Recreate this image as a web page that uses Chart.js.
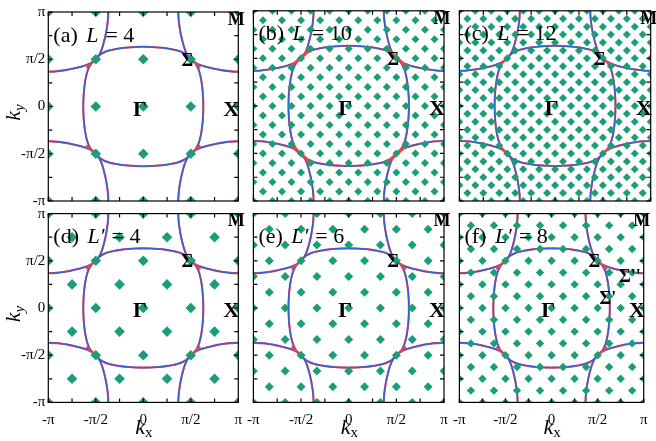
<!DOCTYPE html>
<html>
<head>
<meta charset="utf-8">
<script src="https://cdn.jsdelivr.net/npm/chart.js@4.4.0/dist/chart.umd.min.js"></script>
<style>
  html, body { margin: 0; padding: 0; background: #fff; }
  body { width: 656px; height: 441px; position: relative; overflow: hidden; }
  canvas { position: absolute; left: 0; top: 0; }
</style>
</head>
<body>
<script>
// all momenta in units of pi
const tickValues = [-1, -0.75, -0.5, -0.25, 0, 0.25, 0.5, 0.75, 1];
const tickLabels = { '-1': '-π', '-0.5': '-π/2', '0': '0', '0.5': 'π/2', '1': 'π' };

const panelTags = ['(a)', '(b)', '(c)', '(d)', '(e)', '(f)'];
const clusterNames = ['L', 'L', 'L', 'L′', 'L′', 'L′'];
const clusterSizes = [4, 10, 12, 4, 6, 8];
// k-grid spacing of each cluster, and whether only every other site is used
const gridSteps = [1 / 2, 1 / 10, 1 / 12, 1 / 4, 1 / 6, 1 / 8];
const gridChecker = [false, true, true, true, true, true];

// Fermi surface, one octant each (the rest follows from the square symmetry)
// pocket around Gamma: from the kx axis up to Sigma
const fsGammaKx = [0.632, 0.630, 0.625, 0.616, 0.606, 0.592, 0.574, 0.548, 0.500];
const fsGammaKy = [0.000, 0.080, 0.160, 0.240, 0.300, 0.360, 0.410, 0.455, 0.500];
// pocket around M: from the zone edge kx = pi down to Sigma
const fsMKx = [1.000, 0.920, 0.840, 0.760, 0.700, 0.640, 0.590, 0.545, 0.500];
const fsMKy = [0.368, 0.372, 0.382, 0.396, 0.410, 0.426, 0.443, 0.465, 0.500];
// red pieces at Sigma
const redCuspKx = [0.50, 0.60];
const redCuspKy = [0.50, 0.41];
const redBandKx = [0.41, 0.61];
const redBandKy = [0.59, 0.41];

const quadrants = [[1, 1], [-1, 1], [-1, -1], [1, -1]];

const colLeft = [48.3, 253.4, 459.4];
const colWidth = [190, 190.6, 191.3];
const rowTop = [10.8, 213.6];
const rowHeight = [190.2, 188.8];
const pointSizes = [5.3, 4, 4, 5.3, 4.5, 4.2];

const blue = '#3662d6';
const red = '#e8434c';
const green = '#1b9e77';
const serif = 'Liberation Serif';

function drawRuns(ctx, x, y, runs, align) {
  let total = 0;
  runs.forEach(r => { ctx.font = r.font; total += ctx.measureText(r.text).width + (r.dx || 0); });
  let cx = align === 'center' ? x - total / 2 : x;
  runs.forEach(r => {
    ctx.font = r.font;
    cx += r.dx || 0;
    ctx.fillText(r.text, cx, y + (r.dy || 0));
    cx += ctx.measureText(r.text).width;
  });
}

const decor = {
  id: 'decor',
  afterDatasetsDraw(chart) {
    const { ctx, chartArea: a, scales: { x, y } } = chart;
    ctx.save();
    ctx.strokeStyle = '#000';
    ctx.lineWidth = 1.2;
    ctx.beginPath();
    tickValues.forEach(v => {
      const px = x.getPixelForValue(v), py = y.getPixelForValue(v);
      ctx.moveTo(px, a.bottom); ctx.lineTo(px, a.bottom - 4);
      ctx.moveTo(px, a.top); ctx.lineTo(px, a.top + 4);
      ctx.moveTo(a.left, py); ctx.lineTo(a.left + 4, py);
      ctx.moveTo(a.right, py); ctx.lineTo(a.right - 4, py);
    });
    ctx.stroke();
    ctx.strokeRect(a.left, a.top, a.right - a.left, a.bottom - a.top);
    ctx.restore();
  },
  afterDraw(chart, args, opts) {
    const { ctx, chartArea: a, scales: { x, y } } = chart;
    ctx.save();
    ctx.fillStyle = '#000';
    ctx.textBaseline = 'alphabetic';
    const big = 'bold 22px ' + serif, mid = 'bold 18px ' + serif;
    drawRuns(ctx, a.left + 5, a.top + 29.5, [
      { text: opts.tag + ' ', font: '22px ' + serif },
      { text: opts.name, font: 'italic 22px ' + serif, dx: 3 },
      { text: ' = ' + opts.size, font: '22px ' + serif, dx: 1.5 }
    ]);
    drawRuns(ctx, a.right - 2, a.top + 12.8, [{ text: 'M', font: mid }], 'center');
    drawRuns(ctx, x.getPixelForValue(0.465), y.getPixelForValue(0.43), [{ text: 'Σ', font: mid }], 'center');
    drawRuns(ctx, x.getPixelForValue(-0.035), y.getPixelForValue(-0.1), [{ text: 'Γ', font: big }], 'center');
    drawRuns(ctx, x.getPixelForValue(0.926), y.getPixelForValue(-0.1), [{ text: 'X', font: big }], 'center');
    if (opts.extra) {
      drawRuns(ctx, x.getPixelForValue(0.61), y.getPixelForValue(0.04), [{ text: 'Σ\'', font: mid }], 'center');
      drawRuns(ctx, x.getPixelForValue(0.85), y.getPixelForValue(0.275), [{ text: 'Σ\'\'', font: mid }], 'center');
    }
    if (opts.left) {
      ctx.save();
      ctx.translate(20, (a.top + a.bottom) / 2 + 6);
      ctx.rotate(-Math.PI / 2);
      drawRuns(ctx, 0, 0, [
        { text: 'k', font: 'italic 22px ' + serif },
        { text: 'y', font: 'italic 15px ' + serif, dy: 4 }
      ], 'center');
      ctx.restore();
    }
    if (opts.bottom) {
      drawRuns(ctx, x.getPixelForValue(0) - 8, a.bottom + 32, [
        { text: 'k', font: 'italic 22px ' + serif },
        { text: 'x', font: '15px ' + serif, dy: 3 }
      ]);
    }
    ctx.restore();
  }
};

// one octant arc, reflected into quadrant (sx, sy); swap mirrors it across the diagonal
function lineSet(kx, ky, sx, sy, swap, color, width, order) {
  return {
    data: kx.map((v, i) => swap ? { x: sx * ky[i], y: sy * v } : { x: sx * v, y: sy * ky[i] }),
    showLine: true,
    borderColor: color,
    borderWidth: width,
    pointRadius: 0,
    tension: 0.25,
    fill: false,
    clip: 0,
    order: order
  };
}

function makePanel(p) {
  const col = p % 3, row = Math.floor(p / 3);
  const left = colLeft[col], w = colWidth[col];
  const top = rowTop[row], h = rowHeight[row];

  const canvas = document.createElement('canvas');
  canvas.width = 656;
  canvas.height = 441;
  document.body.appendChild(canvas);

  const points = [];
  const step = gridSteps[p];
  const n = Math.round(1 / step);
  for (let i = -n; i <= n; i++) {
    for (let j = -n; j <= n; j++) {
      if (gridChecker[p] && (i + j) % 2 !== 0) continue;
      points.push({ x: i * step, y: j * step });
    }
  }

  const datasets = [{
    data: points,
    pointStyle: 'rectRot',
    pointRadius: pointSizes[p],
    backgroundColor: green,
    borderWidth: 0,
    clip: 0,
    order: 0
  }];
  quadrants.forEach(([sx, sy]) => {
    [false, true].forEach(swap => {
      datasets.push(lineSet(fsGammaKx, fsGammaKy, sx, sy, swap, red, 2.1, 3));
      datasets.push(lineSet(fsMKx, fsMKy, sx, sy, swap, red, 2.1, 3));
      datasets.push(lineSet(fsGammaKx, fsGammaKy, sx, sy, swap, blue, 1.5, 2));
      datasets.push(lineSet(fsMKx, fsMKy, sx, sy, swap, blue, 1.5, 2));
    });
    if (p === 1) datasets.push(lineSet(redBandKx, redBandKy, sx, sy, false, red, 3.2, 1));
    else datasets.push(lineSet(redCuspKx, redCuspKy, sx, sy, false, red, 2.2, 1));
  });

  const tickFont = { family: serif, size: 15 };
  new Chart(canvas, {
    type: 'scatter',
    data: { datasets: datasets },
    options: {
      responsive: false,
      animation: false,
      events: [],
      layout: {
        autoPadding: false,
        padding: { left: left - 40, right: 656 - left - w, top: top, bottom: 441 - top - h - 30 }
      },
      scales: {
        x: {
          type: 'linear', min: -1, max: 1,
          afterFit: s => { s.height = 30; },
          grid: { display: false, drawTicks: false },
          border: { display: false },
          ticks: {
            display: row === 1, stepSize: 0.5, padding: 8.5, maxRotation: 0, autoSkip: false,
            font: tickFont, color: '#000',
            callback: v => tickLabels[v]
          }
        },
        y: {
          type: 'linear', min: -1, max: 1,
          afterFit: s => { s.width = 40; },
          grid: { display: false, drawTicks: false },
          border: { display: false },
          ticks: {
            display: col === 0, stepSize: 0.5, padding: 3, autoSkip: false,
            font: tickFont, color: '#000',
            callback: v => tickLabels[v]
          }
        }
      },
      plugins: {
        legend: { display: false },
        tooltip: { enabled: false },
        decor: {
          tag: panelTags[p], name: clusterNames[p], size: clusterSizes[p],
          extra: p === 5, left: col === 0, bottom: row === 1
        }
      }
    },
    plugins: [decor]
  });
}

for (let p = 0; p < 6; p++) makePanel(p);
</script>
</body>
</html>
